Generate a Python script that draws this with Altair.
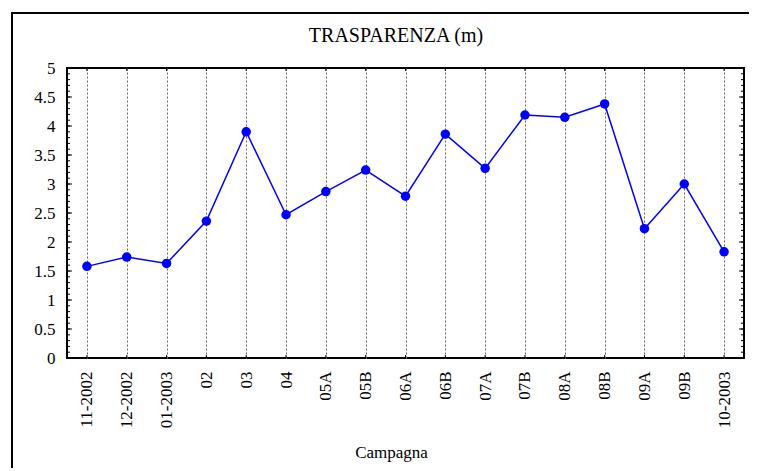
import altair as alt
import pandas as pd

# ---- data ----
campagne = ["11-2002", "12-2002", "01-2003", "02", "03", "04", "05A", "05B",
            "06A", "06B", "07A", "07B", "08A", "08B", "09A", "09B", "10-2003"]
trasparenza = [1.58, 1.74, 1.63, 2.36, 3.90, 2.47, 2.87, 3.24,
               2.79, 3.86, 3.27, 4.19, 4.15, 4.38, 2.23, 3.00, 1.83]
y_ticks = [0, 0.5, 1, 1.5, 2, 2.5, 3, 3.5, 4, 4.5, 5]
minor_ticks = [round(i * 0.1, 1) for i in range(51)]
title_text = "TRASPARENZA (m)"
x_title = "Campagna"

W, H = 677, 290
FONT = "Liberation Serif"
BLUE = "#0000FF"

df = pd.DataFrame({"Campagna": campagne, "Trasparenza": trasparenza})
yscale = alt.Scale(domain=[0, 5], nice=False, zero=True)
xscale = alt.Scale(type="point", padding=0.5)

x_axis = alt.Axis(
    title=x_title, labelAngle=270, grid=True, gridDash=[2, 2],
    gridColor="#666666", gridWidth=1, domain=False, ticks=False,
    tickSize=0, labelPadding=13, labelFont=FONT, labelFontSize=17,
    labelColor="black", titleFont=FONT, titleFontSize=17,
    titleFontWeight="normal", titleColor="black", titleX=324,
    titleY=99, titleAlign="center", titleBaseline="alphabetic",
)
y_axis = alt.Axis(
    title=None, values=y_ticks, format="~g", grid=False, domain=False,
    ticks=False, tickSize=0, labelPadding=12, labelFont=FONT,
    labelFontSize=17, labelColor="black",
)
x_enc = alt.X("Campagna:N", sort=campagne, scale=xscale, axis=x_axis)
y_enc = alt.Y("Trasparenza:Q", scale=yscale, axis=y_axis)

base = alt.Chart(df)
line = base.mark_line(color=BLUE, strokeWidth=1.5).encode(x=x_enc, y=y_enc)
pts = base.mark_circle(size=90, color=BLUE, opacity=1).encode(x=x_enc, y=y_enc)

minor_df = pd.DataFrame({"t": minor_ticks})
major_df = pd.DataFrame({"t": y_ticks})
ty = alt.Y("t:Q", scale=yscale, axis=y_axis)
minor_l = alt.Chart(minor_df).mark_rule(color="black", strokeWidth=1).encode(
    y=ty, x=alt.value(0), x2=alt.value(3))
minor_r = alt.Chart(minor_df).mark_rule(color="black", strokeWidth=1).encode(
    y=ty, x=alt.value(W - 3), x2=alt.value(W))
major_l = alt.Chart(major_df).mark_rule(color="black", strokeWidth=1).encode(
    y=ty, x=alt.value(0), x2=alt.value(5))
major_r = alt.Chart(major_df).mark_rule(color="black", strokeWidth=1).encode(
    y=ty, x=alt.value(W - 5), x2=alt.value(W))

xtick_b = base.mark_rule(color="black", strokeWidth=1).encode(
    x=x_enc, y=alt.value(H - 3), y2=alt.value(H))
xtick_t = base.mark_rule(color="black", strokeWidth=1).encode(
    x=x_enc, y=alt.value(0), y2=alt.value(3))

one = pd.DataFrame({"a": [0]})
frame_v = alt.Chart(one).mark_rule(color="black", strokeWidth=2).encode(
    x=alt.value(-55), y=alt.value(-56), y2=alt.value(H + 120))
frame_h = alt.Chart(one).mark_rule(color="black", strokeWidth=2).encode(
    y=alt.value(-55), x=alt.value(-56), x2=alt.value(W + 10))
title = alt.Chart(one).mark_text(
    font=FONT, fontSize=20, color="black", align="center",
    baseline="alphabetic").encode(
    x=alt.value(329), y=alt.value(-26), text=alt.value(title_text))

chart = alt.layer(
    line, pts, minor_l, minor_r, major_l, major_r, xtick_b, xtick_t,
    frame_v, frame_h, title,
).properties(
    width=W, height=H,
    padding={"left": 59, "top": 60, "right": 5, "bottom": 110},
    autosize=alt.AutoSizeParams(type="none"),
).configure_view(stroke="black", strokeWidth=2)

chart.save("out.html", embed_options={"renderer": "svg", "actions": False})
